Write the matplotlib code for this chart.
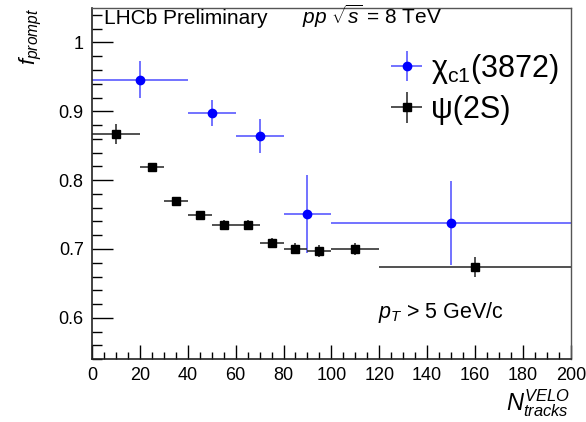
import matplotlib
matplotlib.use("Agg")
import matplotlib.pyplot as plt
from matplotlib.ticker import MultipleLocator

plt.rcParams['font.family'] = ['Liberation Sans', 'DejaVu Sans']
plt.rcParams['mathtext.fontset'] = 'custom'
plt.rcParams['mathtext.rm'] = 'Liberation Sans'
plt.rcParams['mathtext.it'] = 'Liberation Sans:italic'
plt.rcParams['mathtext.bf'] = 'Liberation Sans:bold'

# chi_c1(3872)
chi_x = [20, 50, 70, 90, 150]
chi_xerr = [20, 10, 10, 10, 50]
chi_y = [0.946, 0.898, 0.864, 0.751, 0.738]
chi_yerr = [0.027, 0.019, 0.025, 0.057, 0.061]

# psi(2S)
psi_x = [10, 25, 35, 45, 55, 65, 75, 85, 95, 110, 160]
psi_xerr = [10, 5, 5, 5, 5, 5, 5, 5, 5, 10, 40]
psi_y = [0.867, 0.819, 0.770, 0.749, 0.735, 0.735, 0.709, 0.700, 0.697, 0.700, 0.674]
psi_yerr = [0.015, 0.006, 0.006, 0.006, 0.007, 0.007, 0.007, 0.008, 0.009, 0.009, 0.014]

fig = plt.figure(figsize=(5.86, 4.22), dpi=100)
ax = fig.add_axes([0.157, 0.149, 0.817, 0.832])

h_chi = ax.errorbar(chi_x, chi_y, xerr=chi_xerr, yerr=chi_yerr, fmt='o', color='#0000ff',
                    ecolor='#5a5aff', elinewidth=1.2, markersize=6, capsize=0)
h_psi = ax.errorbar(psi_x, psi_y, xerr=psi_xerr, yerr=psi_yerr, fmt='s', color='black',
                    ecolor='#333333', elinewidth=1.2, markersize=6, capsize=0)

ax.set_xlim(0, 200)
ax.set_ylim(0.54, 1.05)
ax.xaxis.set_major_locator(MultipleLocator(20))
ax.xaxis.set_minor_locator(MultipleLocator(5))
ax.yaxis.set_major_locator(MultipleLocator(0.1))
ax.yaxis.set_minor_locator(MultipleLocator(0.02))
ax.set_yticks([0.6, 0.7, 0.8, 0.9, 1.0])
ax.set_yticklabels(['0.6', '0.7', '0.8', '0.9', '1'])
ax.tick_params(which='both', direction='in', top=False, right=False, labelsize=13, width=1)
ax.tick_params(axis='x', which='major', length=10, pad=6)
ax.tick_params(axis='x', which='minor', length=5)
ax.tick_params(axis='y', which='major', length=15, pad=6)
ax.tick_params(axis='y', which='minor', length=7.5)

for s in ['left', 'bottom']:
    ax.spines[s].set_linewidth(1.2)
    ax.spines[s].set_color('#222222')
for s in ['top', 'right']:
    ax.spines[s].set_linewidth(1.0)
    ax.spines[s].set_color('#555555')

ax.set_ylabel(r'$f_{prompt}$', fontsize=16, loc='top')
ax.yaxis.set_label_coords(-0.1, 1.0)
ax.set_xlabel(r'$N^{VELO}_{tracks}$', fontsize=17, loc='right', labelpad=2)

ax.text(0.025, 0.955, 'LHCb Preliminary', transform=ax.transAxes, fontsize=15, ha='left', va='baseline')
ax.text(0.438, 0.955, r'$pp$ $\sqrt{s}$ = 8 TeV', transform=ax.transAxes, fontsize=15, ha='left', va='baseline')
ax.text(119.5, 0.600, r'$p_T$ > 5 GeV/c', fontsize=15.5, va='baseline')

ax.legend([h_chi, h_psi], [r'$\mathrm{χ}_{\mathrm{c1}}$(3872)', 'ψ(2S)'], loc='upper left',
          bbox_to_anchor=(0.6, 0.91), frameon=False, fontsize=22, handlelength=1.0,
          handletextpad=0.3, labelspacing=0.3, borderaxespad=0)

fig.savefig('out.png', dpi=100)
